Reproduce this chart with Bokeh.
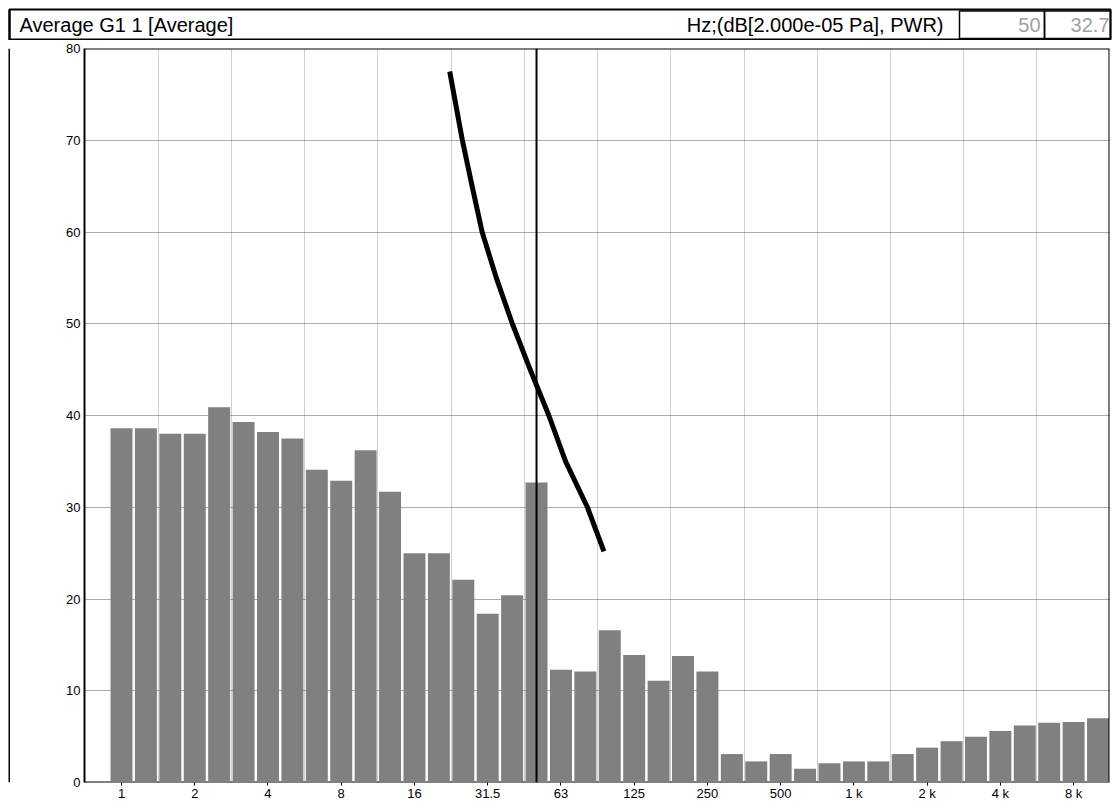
import numpy as np
from bokeh.plotting import figure
from bokeh.layouts import column, row
from bokeh.models import Range1d, FixedTicker, Span
from bokeh.core.properties import value
from bokeh.embed import file_html
from bokeh.resources import INLINE

# 1/3-octave band centre frequencies (Hz)
band_freqs = [1, 1.25, 1.6, 2, 2.5, 3.15, 4, 5, 6.3, 8, 10, 12.5, 16, 20, 25, 31.5,
              40, 50, 63, 80, 100, 125, 160, 200, 250, 315, 400, 500, 630, 800,
              1000, 1250, 1600, 2000, 2500, 3150, 4000, 5000, 6300, 8000, 10000]
# Average levels, dB re 2e-5 Pa
levels = [38.6, 38.6, 38.0, 38.0, 40.9, 39.3, 38.2, 37.5, 34.1, 32.9,
          36.2, 31.7, 25.0, 25.0, 22.1, 18.4, 20.4, 32.7, 12.3, 12.1,
          16.6, 13.9, 11.1, 13.8, 12.1, 3.1, 2.3, 3.1, 1.5, 2.1,
          2.3, 2.3, 3.1, 3.8, 4.5, 5.0, 5.6, 6.2, 6.5, 6.6, 7.0]
# labelled octave ticks
tick_freqs = [1, 2, 4, 8, 16, 31.5, 63, 125, 250, 500, 1000, 2000, 4000, 8000]
tick_labels = ["1", "2", "4", "8", "16", "31.5", "63", "125", "250", "500",
               "1 k", "2 k", "4 k", "8 k"]
y_ticks = [0, 10, 20, 30, 40, 50, 60, 70, 80]
# threshold curve (Hz, dB)
curve_freq = [22.1, 24.9, 27.3, 30.0, 34.3, 39.9, 47.2, 56.3, 65.9, 81.0, 94.6]
curve_db = [77.5, 70.0, 65.0, 60.0, 55.0, 50.0, 45.0, 40.0, 35.0, 30.0, 25.2]
# cursor
cursor_freq = 50
header_title = "Average G1 1 [Average]"
header_units = "Hz;(dB[2.000e-05 Pa], PWR)"

FONT = "Liberation Sans"

idx = list(range(len(band_freqs)))
tick_pos = [band_freqs.index(f) for f in tick_freqs]
cursor_idx = band_freqs.index(cursor_freq)
cursor_val = levels[cursor_idx]

TOTAL_W, TOTAL_H = 1112, 803
HEAD_H = 40
EDGE_W = 10


def bare(fig):
    fig.axis.visible = False
    fig.grid.visible = False
    fig.outline_line_color = None
    fig.background_fill_color = "white"
    fig.border_fill_color = "white"
    return fig


# ---------------- header -----------------
hd = bare(figure(width=TOTAL_W, height=HEAD_H, output_backend="svg",
                 toolbar_location=None, title=None,
                 x_range=Range1d(0, TOTAL_W), y_range=Range1d(HEAD_H, 0),
                 min_border=0, min_border_left=0, min_border_right=0,
                 min_border_top=0, min_border_bottom=0))
hd.quad(left=[9], right=[1110], top=[9], bottom=[39], fill_color=None,
        line_color="black", line_width=2)
hd.segment(x0=[9], y0=[9], x1=[9], y1=[HEAD_H], line_color="black", line_width=2)
hd.quad(left=[959, 1044], right=[1044, 1110], top=[10.5, 10.5], bottom=[38, 38],
        fill_color=None, line_color="black", line_width=1.5)
hd.text(x=[19], y=[24.5], text=[header_title], text_align="left",
        text_baseline="middle", text_font=value(FONT), text_font_size="20px",
        text_color="black")
hd.text(x=[943], y=[24.5], text=[header_units], text_align="right",
        text_baseline="middle", text_font=value(FONT), text_font_size="20px",
        text_color="black")
hd.text(x=[1040, 1109], y=[24.5, 24.5], text=[f"{cursor_freq:g}", f"{cursor_val:g}"],
        text_align="right", text_baseline="middle", text_font=value(FONT),
        text_font_size="20px", text_color="#a0a0a0")

# ---------------- left outer edge -----------------
BODY_H = TOTAL_H - HEAD_H
ed = bare(figure(width=EDGE_W, height=BODY_H, output_backend="svg",
                 toolbar_location=None, title=None,
                 x_range=Range1d(0, EDGE_W), y_range=Range1d(BODY_H, 0),
                 min_border=0, min_border_left=0, min_border_right=0,
                 min_border_top=0, min_border_bottom=0))
ed.segment(x0=[9], y0=[0], x1=[9], y1=[BODY_H], line_color="black", line_width=2)

# ---------------- main plot -----------------
p = figure(width=TOTAL_W - EDGE_W, height=BODY_H, output_backend="svg",
           toolbar_location=None, title=None,
           x_range=Range1d(-1.516, 40.47), y_range=Range1d(0, 80),
           min_border_left=74, min_border_right=3, min_border_top=8,
           min_border_bottom=21, background_fill_color="white",
           border_fill_color="white", outline_line_color=None)

# bottom axis line under the bars
p.add_layout(Span(location=0, dimension="width", line_color="black",
                  line_width=2, level="underlay"))

p.vbar(x=idx, top=levels, bottom=0, width=0.9, fill_color="#808080",
       line_color=None)

curve_x = [10 * np.log10(f) for f in curve_freq]
p.line(x=curve_x, y=curve_db, line_color="black", line_width=5,
       line_join="round")

p.add_layout(Span(location=cursor_idx, dimension="height", line_color="black",
                  line_width=2))

# frame top / right
p.add_layout(Span(location=80, dimension="width", line_color="black", line_width=2))
p.add_layout(Span(location=40.47, dimension="height", line_color="black", line_width=2))

# axes
xa = p.xaxis[0]
xa.ticker = FixedTicker(ticks=tick_pos)
xa.major_label_overrides = {pos: lab for pos, lab in zip(tick_pos, tick_labels)}
xa.axis_line_color = None
xa.major_tick_out = 3
xa.major_tick_in = 0
xa.minor_tick_line_color = None
xa.major_tick_line_color = "black"
xa.major_label_standoff = 0
xa.major_label_text_font = FONT
xa.major_label_text_font_size = "13px"
xa.major_label_text_color = "black"

ya = p.yaxis[0]
ya.ticker = FixedTicker(ticks=y_ticks)
ya.axis_line_color = "black"
ya.axis_line_width = 2
ya.major_tick_out = 0
ya.major_tick_in = 0
ya.minor_tick_line_color = None
ya.major_label_standoff = 4
ya.major_label_text_font = FONT
ya.major_label_text_font_size = "13px"
ya.major_label_text_color = "black"

p.xgrid.ticker = FixedTicker(ticks=[t + 1.5 for t in tick_pos[:-1]])
p.xgrid.grid_line_color = "#a0a0a0"
p.xgrid.grid_line_dash = "1 1"
p.ygrid.ticker = FixedTicker(ticks=y_ticks[1:-1])
p.ygrid.grid_line_color = "#555555"
p.ygrid.grid_line_dash = "1 1"

layout = column(hd, row(ed, p, spacing=0), spacing=0)

open("out.html", "w").write(file_html(layout, INLINE))
